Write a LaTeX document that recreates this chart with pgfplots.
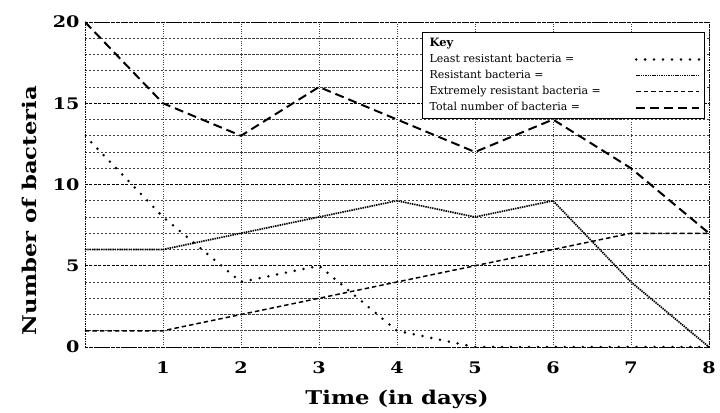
\documentclass[border=0pt]{standalone}
\usepackage{pgfplots}
\pgfplotsset{compat=1.18}
\usepackage{fontspec}
\setmainfont{DejaVu Serif}
\newfontfamily\labelfont[FakeStretch=1.2]{DejaVu Serif}
\begin{document}
\begin{tikzpicture}[x=1bp,y=1bp]
\useasboundingbox (-85,-65) rectangle (635,347);
\begin{axis}[
  at={(0,0)}, anchor=south west,
  scale only axis, width=624bp, height=325bp,
  xmin=0, xmax=8, ymin=0, ymax=20,
  xtick={1,2,3,4,5,6,7,8},
  ytick={0,5,10,15,20},
  minor y tick num=4,
  major tick length=0pt, minor tick length=0pt,
  grid=both,
  major x grid style={black!75, dotted, line width=0.7pt},
  major y grid style={black, dash pattern=on 3pt off 1.5pt, line width=0.6pt},
  minor y grid style={black!75, dash pattern=on 2.5pt off 1.5pt, line width=0.6pt},
  axis line style={black, dash pattern=on 1.5pt off 1pt, line width=0.9pt},
  /pgf/number format/assume math mode=true,
  ticklabel style={font=\labelfont\bfseries\fontsize{16}{18}\selectfont},
  xticklabel style={yshift=-11bp},
  yticklabel style={xshift=-2bp},
  xlabel={Time (in days)},
  ylabel={Number of bacteria},
  xlabel style={font=\labelfont\bfseries\fontsize{19}{22}\selectfont, yshift=-10bp},
  ylabel style={font=\labelfont\bfseries\fontsize{19}{22}\selectfont, at={(ticklabel cs:0.42)}, yshift=9bp},
  legend plot pos=right,
  legend cell align=left,
  legend image code/.code={\draw[#1] (0bp,0bp) -- (63bp,0bp);},
  legend style={at={(1,1)}, anchor=north east, xshift=-4bp, yshift=-10bp,
    draw=black, line width=0.9pt, fill=white,
    font=\fontsize{11}{12}\selectfont,
    nodes={inner sep=3.1bp}, row sep=0pt, inner xsep=4bp, inner ysep=3bp},
]
\addlegendimage{empty legend}
\addlegendentry{\makebox[202bp][l]{\bfseries\fontsize{11.5}{12}\selectfont Key}}

\addplot[black, line width=2.8pt, line cap=round, dash pattern=on 0pt off 9pt]
  coordinates {(0,13) (1,8) (2,4) (3,5) (4,1) (5,0) (6,0) (7,0) (8,0)};
\addlegendentry{\makebox[202bp][l]{Least resistant bacteria =}}

\addplot[black, line width=1.7pt, dash pattern=on 1.4pt off 0.9pt]
  coordinates {(0,6) (1,6) (2,7) (3,8) (4,9) (5,8) (6,9) (7,4) (8,0)};
\addlegendentry{\makebox[202bp][l]{Resistant bacteria =}}

\addplot[black, line width=1.5pt, dash pattern=on 4.5pt off 3pt]
  coordinates {(0,1) (1,1) (2,2) (3,3) (4,4) (5,5) (6,6) (7,7) (8,7)};
\addlegendentry{\makebox[202bp][l]{Extremely resistant bacteria =}}

\addplot[black, line width=2pt, dash pattern=on 9pt off 5pt]
  coordinates {(0,20) (1,15) (2,13) (3,16) (4,14) (5,12) (6,14) (7,11) (8,7)};
\addlegendentry{\makebox[202bp][l]{Total number of bacteria =}}
\end{axis}
\end{tikzpicture}
\end{document}
